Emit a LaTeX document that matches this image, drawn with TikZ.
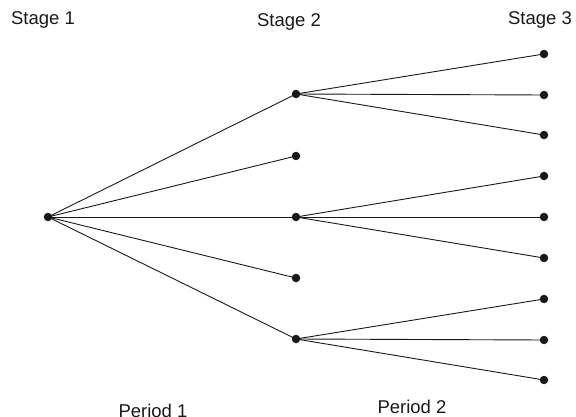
\documentclass[tikz,border=0pt]{standalone}
\usepackage{fontspec}
\setmainfont{Liberation Sans}
\begin{document}
\begin{tikzpicture}[x=1pt,y=-1pt,
  dotnode/.style={circle,fill=black!90,inner sep=0pt,minimum size=8.5pt},
  edge/.style={draw=black!90,line width=0.9pt},
  lbl/.style={font=\fontsize{18.5}{20}\selectfont,text=black!90,inner sep=0pt}]
\useasboundingbox (0,0) rectangle (576,417);
\node[dotnode] (r) at (48,217) {};
\node[dotnode] (a) at (296,94) {};
\node[dotnode] (b) at (296,156) {};
\node[dotnode] (c) at (296,217) {};
\node[dotnode] (d) at (296,278) {};
\node[dotnode] (e) at (296,339) {};
\node[dotnode] (a1) at (544,54) {};
\node[dotnode] (a2) at (544,95) {};
\node[dotnode] (a3) at (544,135) {};
\node[dotnode] (c1) at (544,176) {};
\node[dotnode] (c2) at (544,217) {};
\node[dotnode] (c3) at (544,258) {};
\node[dotnode] (e1) at (544,299) {};
\node[dotnode] (e2) at (544,340) {};
\node[dotnode] (e3) at (544,380) {};
\foreach \t in {a,b,c,d,e} \draw[edge] (r.center) -- (\t.center);
\foreach \s in {a,c,e} \foreach \i in {1,2,3} \draw[edge] (\s.center) -- (\s\i.center);
\node[lbl] (s1) at (43,20) {Stage 1};
\node[lbl] (s2) at (289,22) {Stage 2};
\node[lbl] (s3) at (540,20) {Stage 3};
\node[lbl] (p1) at (153,411) {Period 1};
\node[lbl] (p2) at (412,407) {Period 2};
\end{tikzpicture}
\end{document}
